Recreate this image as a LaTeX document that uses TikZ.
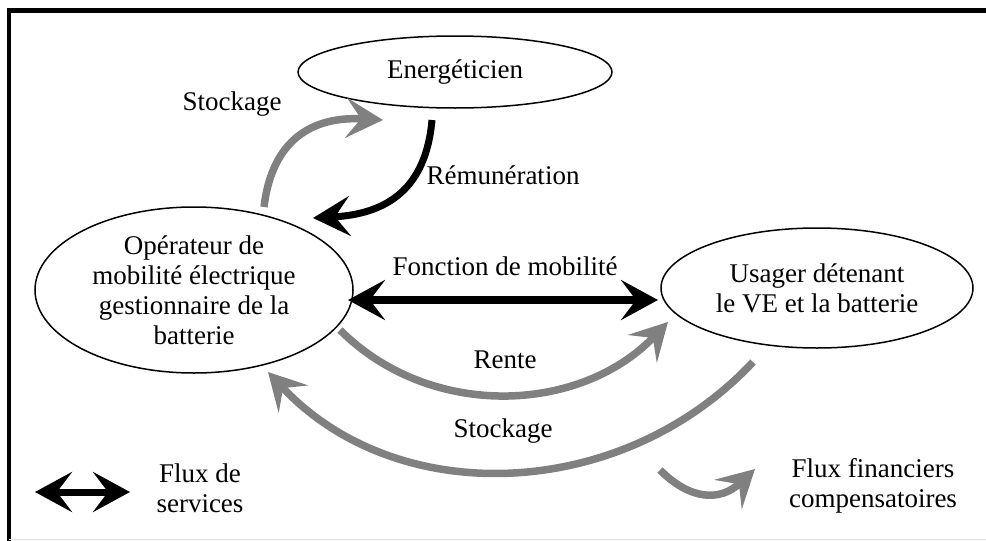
\documentclass[tikz,border=0pt]{standalone}
\usepackage{fontspec}
\setmainfont{Liberation Serif}
\usetikzlibrary{arrows.meta,shapes.geometric}
\definecolor{flowgray}{HTML}{808080}
\tikzset{
  txt/.style={font=\fontsize{27}{30}\selectfont, align=center, inner sep=0pt},
  actor/.style={ellipse, draw, line width=1.5pt, inner sep=0pt, font=\fontsize{27}{30}\selectfont, align=center},
  svc/.style={draw=black, line width=7pt, -{Stealth[length=37pt, width=40pt, inset=15pt]}},
  svcboth/.style={draw=black, line width=8pt, {Stealth[length=37pt, width=40pt, inset=15pt]}-{Stealth[length=37pt, width=40pt, inset=15pt]}},
  fin/.style={draw=flowgray, line width=7.5pt, -{Stealth[length=37pt, width=40pt, inset=15pt]}}
}
\begin{document}
\begin{tikzpicture}[x=1pt,y=-1pt]
\useasboundingbox (0,0) rectangle (986,541);
% frame
\draw[line width=4.4pt, line cap=rect] (9,541) -- (9,10.5) -- (990,10.5);
\draw[line width=0.8pt, black!12] (9,539.5) -- (990,539.5);

% actors
\node[actor, minimum width=314pt, minimum height=72pt] (en) at (455,72) {Energéticien};
\node[actor, minimum width=318pt, minimum height=166pt] (op) at (194,290) {Opérateur de\\mobilité électrique\\gestionnaire de la\\batterie};
\node[actor, minimum width=312pt, minimum height=120pt] (us) at (817,288) {Usager détenant\\le VE et la batterie};

% connector end points
\coordinate (s1a) at (264,207);
\coordinate (s1b) at (383,120);
\coordinate (ra) at (432,120);
\coordinate (rb) at (313,218);
\coordinate (fa) at (348,300);
\coordinate (fb) at (658,300);
\coordinate (rea) at (340,330);
\coordinate (reb) at (668,322);
\coordinate (s2a) at (753,362);
\coordinate (s2b) at (268,372);

% Stockage (operator -> energeticien)
\draw[fin] (s1a) .. controls (272,140) and (312,116) .. (s1b);
% Remuneration
\draw[svc] (ra) .. controls (426,188) and (388,214) .. (rb);
% Fonction de mobilite
\draw[svcboth] (fa) -- (fb);
% Rente
\draw[fin] (rea) .. controls (430,420) and (580,414) .. (reb);
% Stockage (usager -> operator)
\draw[fin] (s2a) .. controls (623,501) and (398,511) .. (s2b);

% labels
\node[txt] (lstock1) at (232,104) {Stockage};
\node[txt] (lremu) at (503,175) {Rémunération};
\node[txt] (lfonc) at (505,266) {Fonction de mobilité};
\node[txt] (lrente) at (505,360) {Rente};
\node[txt] (lstock2) at (503,431) {Stockage};

% legend
\coordinate (la) at (35,492);
\coordinate (lb) at (130,492);
\draw[svcboth, line width=7pt] (la) -- (lb);
\node[txt] (lsvc) at (200,488) {Flux de\\services};
\coordinate (ga) at (660,470);
\coordinate (gb) at (755,469);
\draw[fin] (ga) .. controls (690,500) and (720,502) .. (gb);
\node[txt] (lfin) at (873,486) {Flux financiers\\compensatoires};
\end{tikzpicture}
\end{document}
